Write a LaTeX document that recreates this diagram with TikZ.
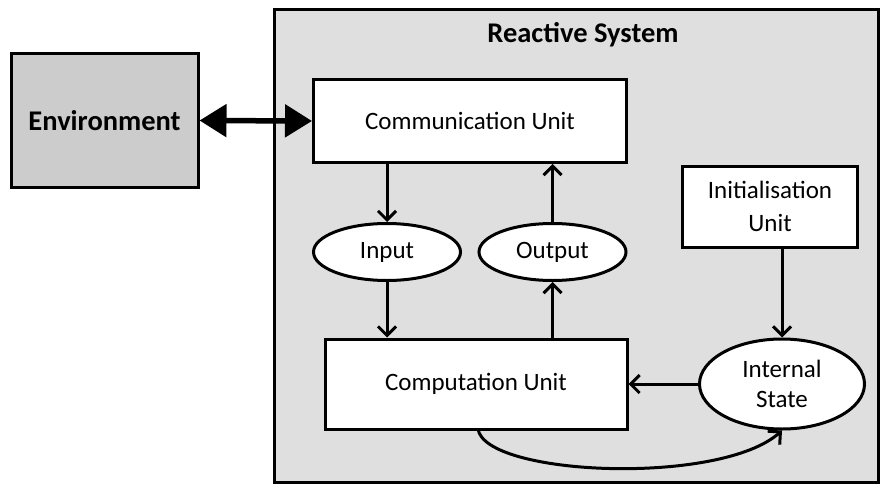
\documentclass[tikz,border=0pt]{standalone}
\usepackage{fontspec}
\setmainfont{Carlito}
\usetikzlibrary{arrows.meta,shapes.geometric}
\definecolor{sysgray}{HTML}{DFDFDF}
\definecolor{envgray}{HTML}{CCCCCC}
\tikzset{
  every node/.style={font=\fontsize{25}{31}\selectfont},
  boldlabel/.style={font=\fontsize{28.5}{33}\selectfont\bfseries},
  unitbox/.style={draw=black, line width=3pt, fill=white, align=center, inner sep=0pt},
  dataoval/.style={ellipse, draw=black, line width=3pt, fill=white, align=center, inner sep=0pt},
  flow/.style={line width=3pt, -{Straight Barb[length=9pt,width=18pt,line width=3pt]}},
  bigtip/.tip={Triangle[length=27pt,width=32pt]},
}
\begin{document}
\begin{tikzpicture}[x=1pt,y=-1pt]
  \useasboundingbox (0,0) rectangle (883,487);
  % reactive system container
  \node[draw=black, line width=3pt, fill=sysgray, minimum width=604pt, minimum height=473pt, anchor=north west, inner sep=0pt] (sys) at (273,8) {};
  \node[boldlabel] (title) at (583,35) {Reactive System};
  % environment
  \node[draw=black, line width=3pt, fill=envgray, minimum width=187pt, minimum height=133pt, boldlabel] (env) at (104.5,120.5) {Environment};
  % units
  \node[unitbox, minimum width=313pt, minimum height=83pt] (comm) at (470,121) {Communication Unit};
  \node[unitbox, minimum width=302pt, minimum height=90pt] (comp) at (476,384) {Computation Unit};
  \node[unitbox, minimum width=175pt, minimum height=81pt, font=\fontsize{25}{33}\selectfont] (init) at (770,206.5) {Initialisation\\Unit};
  % ovals
  \node[dataoval, minimum width=147pt, minimum height=57pt] (in) at (387,252) {Input};
  \node[dataoval, minimum width=147pt, minimum height=57pt] (out) at (552.5,252) {Output};
  \node[dataoval, minimum width=165pt, minimum height=90pt, font=\fontsize{25}{30}\selectfont] (state) at (782,384) {Internal\\State};
  % connectors
  \draw[line width=5.5pt, {bigtip}-{bigtip}] (env.east) -- (comm.west);
  \draw[flow] (comm.south -| in.north) -- (in.north);
  \draw[flow] (in.south) -- (comp.north -| in.south);
  \draw[flow] (out.north) -- (comm.south -| out.north);
  \draw[flow] (comp.north -| out.south) -- (out.south);
  \draw[flow] (init.south -| state.north) -- (state.north);
  \draw[flow] (state.west) -- (state.west -| comp.east);
  \coordinate (loopstart) at (478,429);
  \draw[flow] (loopstart) .. controls (485,476) and (720,486) .. (state.south);
\end{tikzpicture}
\end{document}
